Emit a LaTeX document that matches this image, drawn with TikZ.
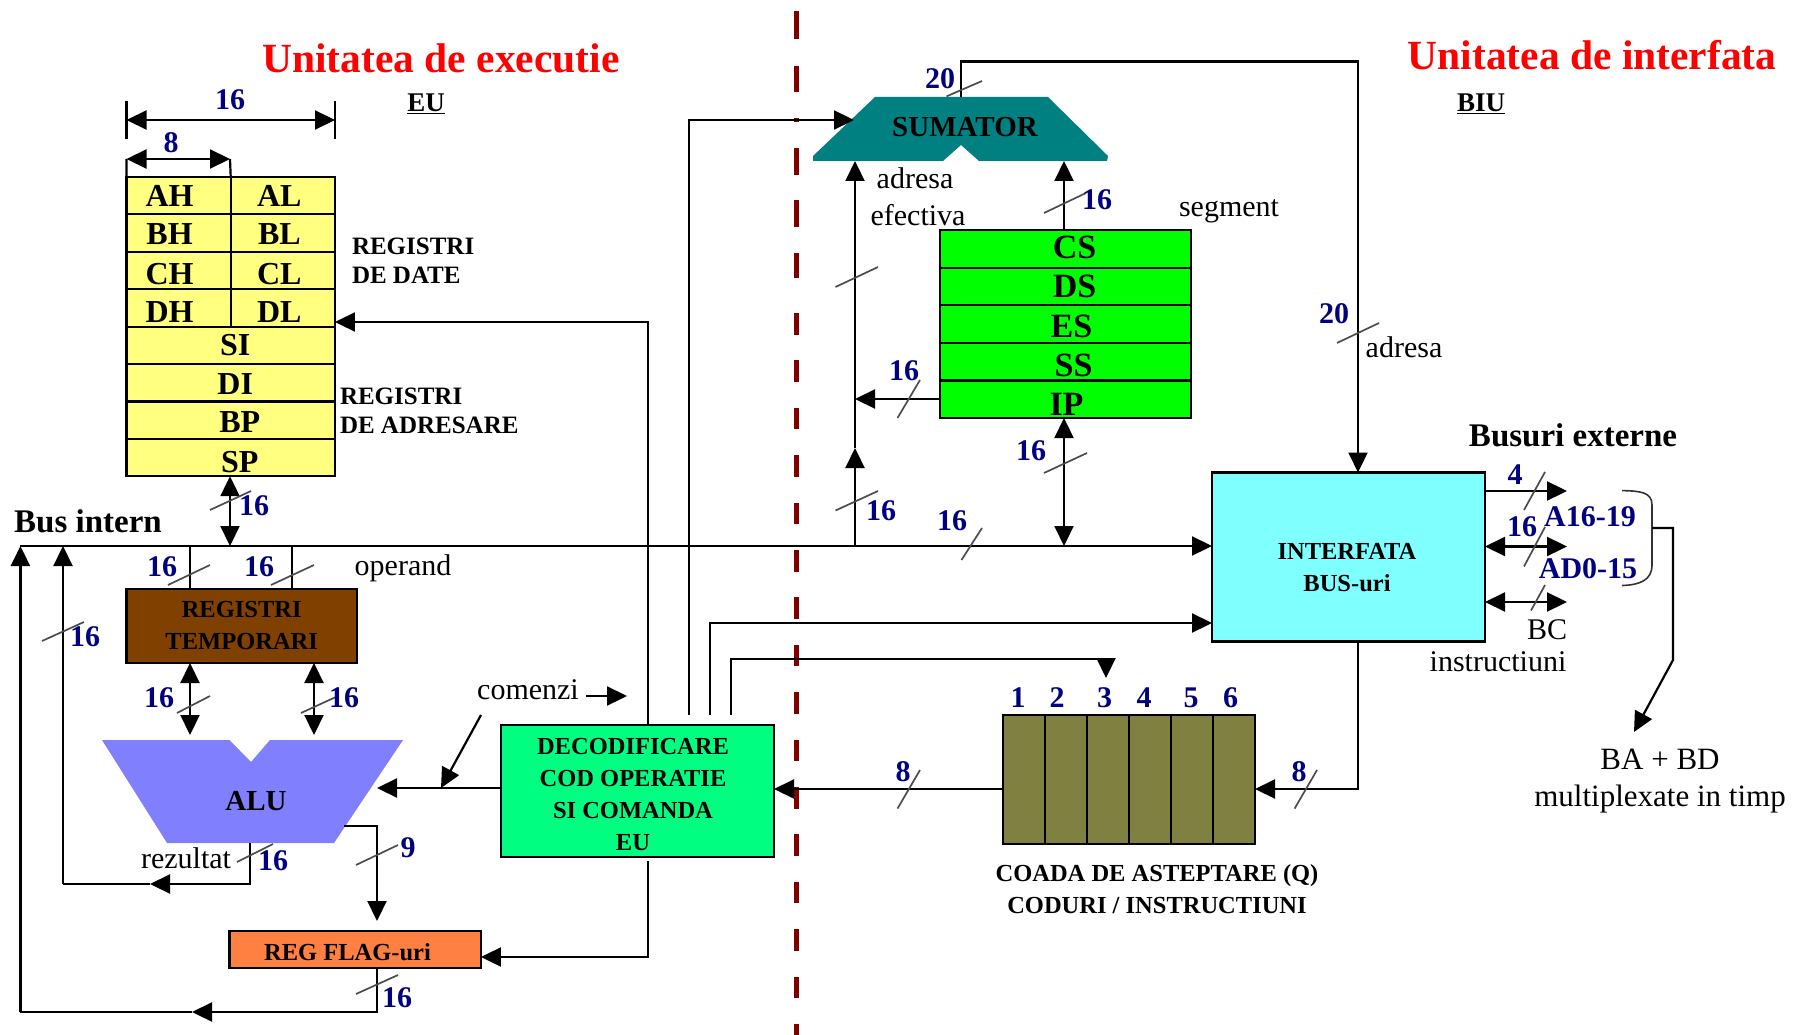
\documentclass[tikz,border=0pt]{standalone}
\usepackage{fontspec}
\setmainfont{Liberation Serif}
\usetikzlibrary{arrows.meta,positioning}
\definecolor{CutRed}{HTML}{800000}
\definecolor{WidthBlue}{HTML}{000080}
\definecolor{RegYellow}{HTML}{FFFF80}
\definecolor{TempBrown}{HTML}{804000}
\definecolor{AluBlue}{HTML}{8080FF}
\definecolor{DecGreen}{HTML}{00FF80}
\definecolor{FlagOrange}{HTML}{FF8040}
\definecolor{AddTeal}{HTML}{008080}
\definecolor{SegGreen}{HTML}{00FF00}
\definecolor{BusCyan}{HTML}{80FFFF}
\definecolor{QueueOlive}{HTML}{808040}

\begin{document}
\begin{tikzpicture}[
  x=1pt,y=-1pt,
  every node/.style={inner sep=0pt,outer sep=0pt},
  title/.style={font=\fontsize{41.5}{41.5}\bfseries\selectfont,text=red},
  head/.style={font=\fontsize{33}{33}\bfseries\selectfont},
  unit/.style={font=\fontsize{27}{27}\bfseries\selectfont},
  boxtxt/.style={font=\fontsize{24.5}{32}\bfseries\selectfont,align=center},
  sidetxt/.style={font=\fontsize{25}{29}\bfseries\selectfont,align=left,anchor=west},
  bigtxt/.style={font=\fontsize{29}{29}\bfseries\selectfont},
  note/.style={font=\fontsize{30}{30}\selectfont},
  width/.style={font=\fontsize{30}{30}\bfseries\selectfont,text=WidthBlue},
  box/.style={draw=black,line width=2.2pt},
  reghalf/.style={draw=black,line width=2.2pt,fill=RegYellow,minimum width=104.25pt,minimum height=37.4pt,text height=21pt,text depth=0pt,font=\fontsize{32}{32}\bfseries\selectfont},
  regwide/.style={reghalf,minimum width=208.5pt},
  segreg/.style={reghalf,fill=SegGreen,minimum width=251pt,minimum height=37.6pt,text height=22.5pt,font=\fontsize{34}{34}\bfseries\selectfont},
  qcell/.style={draw=black,line width=2pt,fill=QueueOlive,minimum width=42pt,minimum height=129pt},
  wire/.style={line width=2.2pt,draw=black},
  arrow/.style={wire,-{Triangle[length=20pt,width=19pt]}},
  dblarrow/.style={wire,{Triangle[length=20pt,width=19pt]}-{Triangle[length=20pt,width=19pt]}},
  slash/.style={line width=1.7pt,draw=black!70},
  cut/.style={line width=5pt,draw=CutRed}
]
\useasboundingbox (0,0) rectangle (1804,1035);
% split between the two units
\foreach \ya/\yb in {11/39,66/92,118/122,148/175,200/227,253/278}
  \draw[cut] (796,\ya)--(796,\yb);
\coordinate (cuttop) at (796,313);
\coordinate (cutbot) at (796,1035);
\draw[cut,dash pattern=on 21.5pt off 25.9pt] (cuttop)--(cutbot);
\node[title] (eutitle) at (441,58) {Unitatea de executie};
\node[title] (biutitle) at (1592,55) {Unitatea de interfata};
\node[unit] (eu) at (426,104) {\underline{EU}};
\node[unit] (biu) at (1481,104) {\underline{BIU}};
% general registers
\node[reghalf] (ah) at (178.6,195.7) {AH\hspace*{18pt}};
\node[reghalf,right=0pt of ah] (al) {AL\hspace*{7pt}};
\node[reghalf,below=0pt of ah,text height=23pt] (bh) {BH\hspace*{18pt}};
\node[reghalf,right=0pt of bh,text height=23pt] (bl) {BL\hspace*{7pt}};
\node[reghalf,below=0pt of bh,text height=28pt] (ch) {CH\hspace*{18pt}};
\node[reghalf,right=0pt of ch,text height=28pt] (cl) {CL\hspace*{7pt}};
\node[reghalf,below=0pt of ch,text height=30pt] (dh) {DH\hspace*{18pt}};
\node[reghalf,right=0pt of dh,text height=30pt] (dl) {DL\hspace*{7pt}};
\node[regwide,below=0pt of dh.south west,anchor=north west] (si) {\hspace*{9pt}SI};
\node[regwide,below=0pt of si,text height=23pt] (di) {\hspace*{9pt}DI};
\node[regwide,below=0pt of di,text height=25pt] (bp) {\hspace*{18pt}BP};
\node[regwide,below=0pt of bp,text height=30pt] (sp) {\hspace*{18pt}SP};
\node[sidetxt] (regdate) at (352,261) {REGISTRI\\DE DATE};
\node[sidetxt] (regadr) at (340,411) {REGISTRI\\DE ADRESARE};
\coordinate (w16l) at (126.5,120); \coordinate (w16r) at (335,120);
\coordinate (w8l) at (126.5,159); \coordinate (w8r) at (230,159);
\draw[dblarrow] (w16l)--(w16r);
\draw[dblarrow] (w8l)--(w8r);
\draw[wire] (126.5,101)--(126.5,139);
\draw[wire] (335,101)--(335,139);
\draw[wire] (w8l)--(ah.north west);
\draw[wire] (w8r)--(ah.north east);
\node[width] (n16top) at (230,100) {16};
\node[width] (n8top) at (171,143) {8};
% execution unit
\node[box,fill=TempBrown,minimum width=230.5pt,minimum height=74pt,boxtxt] (temp) at (241.7,626) {REGISTRI\\TEMPORARI};
\node[box,fill=DecGreen,minimum width=273pt,minimum height=132pt] (decoder) at (637.5,791) {};
\node[boxtxt] (dectxt) at (633,794.5) {DECODIFICARE\\COD OPERATIE\\SI COMANDA\\EU};
\node[box,fill=FlagOrange,minimum width=251.5pt,minimum height=37pt] (flags) at (355.2,949.5) {};
\node[boxtxt] (flagtxt) at (347.5,952) {REG FLAG-uri};
\fill[AluBlue] (102,740)--(229.5,740)--(251,762)--(270,740)--(403,740)--(334,843)--(167,843)--cycle;
\node[bigtxt] (alu) at (256,801) {ALU};
% address path
\fill[AddTeal] (875,97)--(1048,97)--(1108,156)--(1107,161)--(979,161)--(961,145)--(943,161)--(813,161)--(813,156)--cycle;
\node[bigtxt] (adder) at (965,127) {SUMATOR};
\node[segreg,text depth=4pt] (cs) at (1065.5,248.8) {\hspace*{18pt}CS};
\node[segreg,below=0pt of cs] (ds) {\hspace*{18pt}DS};
\node[segreg,below=0pt of ds,text height=27pt] (es) {\hspace*{12pt}ES};
\node[segreg,below=0pt of es,text height=30pt] (ss) {\hspace*{16pt}SS};
\node[segreg,below=0pt of ss,text height=32pt] (ip) {\hspace*{2pt}IP};
\node[box,fill=BusCyan,minimum width=273pt,minimum height=169pt] (iface) at (1348.5,557) {};
\node[boxtxt] (ifacetxt) at (1347,568) {INTERFATA\\BUS-uri};
% queue
\node[qcell] (q1) at (1024,779.5) {};
\node[qcell,right=0pt of q1] (q2) {};
\node[qcell,right=0pt of q2] (q3) {};
\node[qcell,right=0pt of q3] (q4) {};
\node[qcell,right=0pt of q4] (q5) {};
\node[qcell,right=0pt of q5] (q6) {};
\node[width] (d1) at (1018,698) {1};
\node[width] (d2) at (1057,698) {2};
\node[width] (d3) at (1104.5,698) {3};
\node[width] (d4) at (1144,698) {4};
\node[width] (d5) at (1191,698) {5};
\node[width] (d6) at (1230.5,698) {6};
\node[boxtxt] (qcap) at (1157,889) {COADA DE ASTEPTARE (Q)\\CODURI / INSTRUCTIUNI};
% internal bus
\coordinate (busl) at (20.4,546);
\coordinate (sumbus) at (855,546);
\coordinate (ipbus) at (1064,546);
\coordinate (spbus) at (230,546);
\coordinate (tempa) at (190,546);
\coordinate (tempb) at (292,546);
\draw[arrow] (busl)--(busl -| iface.west);
\draw[dblarrow] (spbus |- sp.south)--(spbus);
\draw[wire] (tempa)--(tempa |- temp.north);
\draw[wire] (tempb)--(tempb |- temp.north);
\node[head] (busint) at (88,521) {Bus intern};
% temp registers and alu
\coordinate (alua) at (190,735); \coordinate (alub) at (314,735);
\draw[dblarrow] (alua |- temp.south)--(alua);
\draw[dblarrow] (alub |- temp.south)--(alub);
\coordinate (cmdin) at (377,788);
\coordinate (cmdtip) at (441,788);
\coordinate (cmdfrom) at (481,715);
\draw[arrow] (cmdin -| decoder.west)--(cmdin);
\draw[arrow] (cmdfrom)--(cmdtip);
\coordinate (cmdl) at (586,696); \coordinate (cmdr) at (627,696);
\draw[arrow] (cmdl)--(cmdr);
% result back to the bus
\coordinate (resb) at (250,843); \coordinate (resc) at (250,884);
\coordinate (resm) at (150,884); \coordinate (resd) at (63,884); \coordinate (rese) at (63,546);
\draw[arrow] (resb)--(resc)--(resm);
\draw[wire] (resm)--(resd);
\draw[arrow] (resd)--(rese);
% flags
\coordinate (flout) at (344,826); \coordinate (flturn) at (377,826); \coordinate (flin) at (377,921);
\draw[arrow] (flout)--(flturn)--(flin);
\coordinate (flb) at (377,1012); \coordinate (flm) at (192,1012); \coordinate (flc) at (20.4,1012);
\draw[arrow] (flb |- flags.south)--(flb)--(flm);
\draw[wire] (flm)--(flc);
\draw[arrow] (flc)--(busl);
\coordinate (ctlb) at (648,957); \coordinate (ctlt) at (648,861);
\draw[arrow] (ctlt)--(ctlb)--(ctlb -| flags.east);
% decoder to data registers and the other units
\coordinate (dataturn) at (648,322);
\draw[arrow] (dataturn |- decoder.north)--(dataturn)--(dataturn -| dl.east);
\coordinate (sumfrom) at (689,715); \coordinate (sumturn) at (689,120); \coordinate (sumin) at (854,120);
\draw[arrow] (sumfrom)--(sumturn)--(sumin);
\coordinate (ifrom) at (710,715); \coordinate (iturn) at (710,623);
\draw[arrow] (ifrom)--(iturn)--(iturn -| iface.west);
\coordinate (qfrom) at (731,715); \coordinate (qturn) at (731,659); \coordinate (qmid) at (1106,659); \coordinate (qin) at (1106,678);
\draw[arrow] (qfrom)--(qturn)--(qmid)--(qin);
% address unit
\coordinate (efa) at (855,546); \coordinate (efm) at (855,448); \coordinate (eft) at (855,161);
\draw[arrow] (efa)--(efm);
\draw[arrow] (efm)--(eft);
\coordinate (ipin) at (855,399);
\draw[arrow] (ipin -| ip.west)--(ipin);
\coordinate (segt) at (1064,161);
\draw[arrow] (segt |- cs.north)--(segt);
\draw[dblarrow] (ipbus |- ip.south)--(ipbus);
\coordinate (adrs) at (961,97); \coordinate (adrt) at (961,61.5); \coordinate (adrr) at (1358,61.5);
\draw[arrow] (adrs)--(adrt)--(adrr)--(adrr |- iface.north);
\coordinate (qb) at (1358,789);
\draw[arrow] (adrr |- iface.south)--(qb)--(qb -| q6.east);
\coordinate (qdec) at (1003,789);
\draw[arrow] (qdec -| q1.west)--(qdec -| decoder.east);
% external buses
\coordinate (exa) at (1485,491); \coordinate (exb) at (1485,546.5); \coordinate (exc) at (1485,602);
\coordinate (exar) at (1567,491); \coordinate (exbr) at (1567,546.5); \coordinate (excr) at (1567,602);
\draw[arrow] (exa)--(exar);
\draw[dblarrow] (exb)--(exbr);
\draw[dblarrow] (exc)--(excr);
\draw[line width=1.6pt,draw=black!80] (1622,490.6) .. controls (1640,491) and (1652,492) .. (1652,505)--(1652,565) .. controls (1652,580) and (1640,585) .. (1622,585.5);
\coordinate (bra) at (1652,528); \coordinate (brb) at (1673,528); \coordinate (brc) at (1673,660); \coordinate (brd) at (1634,732);
\draw[arrow] (bra)--(brb)--(brc)--(brd);
% slashes
\draw[slash] (210,510)--(251,491);
\draw[slash] (168,585)--(210,565);
\draw[slash] (271,585)--(314,565);
\draw[slash] (42,641)--(84,622);
\draw[slash] (177,713)--(210,696);
\draw[slash] (301,713)--(338,696);
\draw[slash] (237,862)--(273,844);
\draw[slash] (356,865)--(398,845);
\draw[slash] (356,994)--(398,975);
\draw[slash] (835.5,287)--(878,267);
\draw[slash] (835.5,510.5)--(878,491);
\draw[slash] (1044,213)--(1086,193);
\draw[slash] (1044,473)--(1087,453);
\draw[slash] (946.5,96.4)--(982,81);
\draw[slash] (1337,343)--(1379,323);
\draw[slash] (897.5,418)--(920,380);
\draw[slash] (961.5,560)--(982,528);
\draw[slash] (897.5,808.6)--(920,770);
\draw[slash] (1294.6,808.6)--(1317,770);
\draw[slash] (1524,510)--(1545,472);
\draw[slash] (1524,566.5)--(1545,527);
\draw[slash] (1531,610.5)--(1545,585);
% width labels
\node[width] (n16sp) at (254,506) {16};
\node[width] (n16ta) at (162,566.5) {16};
\node[width] (n16tb) at (259,566.5) {16};
\node[width] (n16rb) at (85,637) {16};
\node[width] (n16aa) at (159,698) {16};
\node[width] (n16ab) at (344,698) {16};
\node[width] (n16res) at (273,861) {16};
\node[width] (n9) at (408,848) {9};
\node[width] (n16fl) at (397,998) {16};
\node[width] (n8dec) at (903,772) {8};
\node[width] (n8q) at (1299,772) {8};
\node[width] (n20a) at (940,79) {20};
\node[width] (n20b) at (1334,314) {20};
\node[width] (n16seg) at (1097,200) {16};
\node[width] (n16ip) at (904,371) {16};
\node[width] (n16ipb) at (1031,450.5) {16};
\node[width] (n16ef) at (881,511) {16};
\node[width] (n16bus) at (952,521) {16};
\node[width] (n4ext) at (1515,475) {4};
\node[width] (n16ext) at (1522,527) {16};
\node[width] (a1619) at (1590,516.6) {A16-19};
\node[width] (ad015) at (1588,569) {AD0-15};
% notes
\node[note] (operand) at (403,568) {operand};
\node[note] (comenzi) at (528,690) {comenzi};
\node[note] (rezultat) at (186,858) {rezultat};
\node[note] (adresa) at (915,178) {adresa};
\node[note] (efectiva) at (918,215) {efectiva};
\node[note] (segment) at (1229,211) {segment};
\node[note] (adresab) at (1404,347) {adresa};
\node[head] (busext) at (1573,435) {Busuri externe};
\node[note] (bc) at (1547,630) {BC};
\node[note] (instr) at (1498,662) {instructiuni};
\node[note,align=center,font=\fontsize{31}{37}\selectfont] (mux) at (1660,781) {BA + BD\\multiplexate in timp};
\end{tikzpicture}
\end{document}
